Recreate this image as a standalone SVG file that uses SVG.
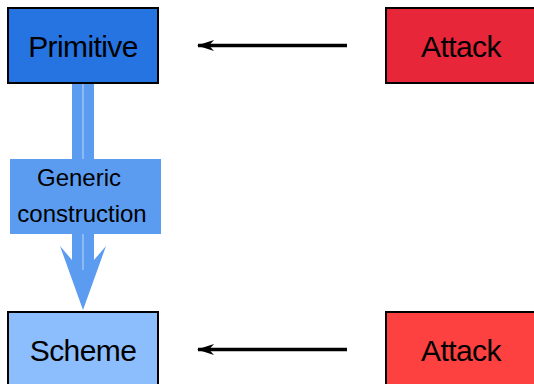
<svg xmlns="http://www.w3.org/2000/svg" width="534" height="384" viewBox="0 0 534 384">
<style>
.box{stroke:#000;stroke-width:2}
.t{font-family:"Liberation Sans",Arial,sans-serif;font-size:30px;letter-spacing:-0.6px;fill:#000;text-anchor:middle}
.s{font-family:"Liberation Sans",Arial,sans-serif;font-size:24px;fill:#000;text-anchor:middle}
.arr{stroke:#000;stroke-width:3.5;fill:none}
</style>
<defs>
<marker id="ah" markerUnits="userSpaceOnUse" markerWidth="20" markerHeight="14" refX="18" refY="7" orient="auto" viewBox="0 0 20 14">
<path d="M19,7 L2,1.5 L7,7 L2,12.5 Z" fill="#000"/>
</marker>
</defs>
<rect width="534" height="384" fill="#fff"/>
<g id="edges">
<line class="arr" x1="347" y1="45.5" x2="198" y2="45.5" marker-end="url(#ah)"/>
<line class="arr" x1="347" y1="349.5" x2="198" y2="349.5" marker-end="url(#ah)"/>
<g id="generic-arrow">
<path d="M72,83 L94,83 L94,260 L106,246 L83,310 L60,246 L72,260 Z" fill="#5b9bf0"/>
<line x1="83" y1="83" x2="83" y2="270" stroke="#a9c9f7" stroke-width="1.3"/>
</g>
</g>
<g id="primitive">
<rect class="box" x="8" y="8" width="150" height="75" fill="#2574e2"/>
<text class="t" x="83" y="57">Primitive</text>
</g>
<g id="attack-top">
<rect class="box" x="386" y="8" width="150" height="75" fill="#e82639"/>
<text class="t" x="461" y="57">Attack</text>
</g>
<g id="generic-label">
<rect x="10" y="159" width="151" height="75" fill="#5b9bf0"/>
<text class="s" x="79" y="186">Generic</text>
<text class="s" x="82" y="222">construction</text>
</g>
<g id="scheme">
<rect class="box" x="8" y="312" width="150" height="75" fill="#8cbdfc"/>
<text class="t" x="83" y="360.5">Scheme</text>
</g>
<g id="attack-bottom">
<rect class="box" x="386" y="312" width="150" height="75" fill="#fd4040"/>
<text class="t" x="461" y="360.5">Attack</text>
</g>
</svg>
